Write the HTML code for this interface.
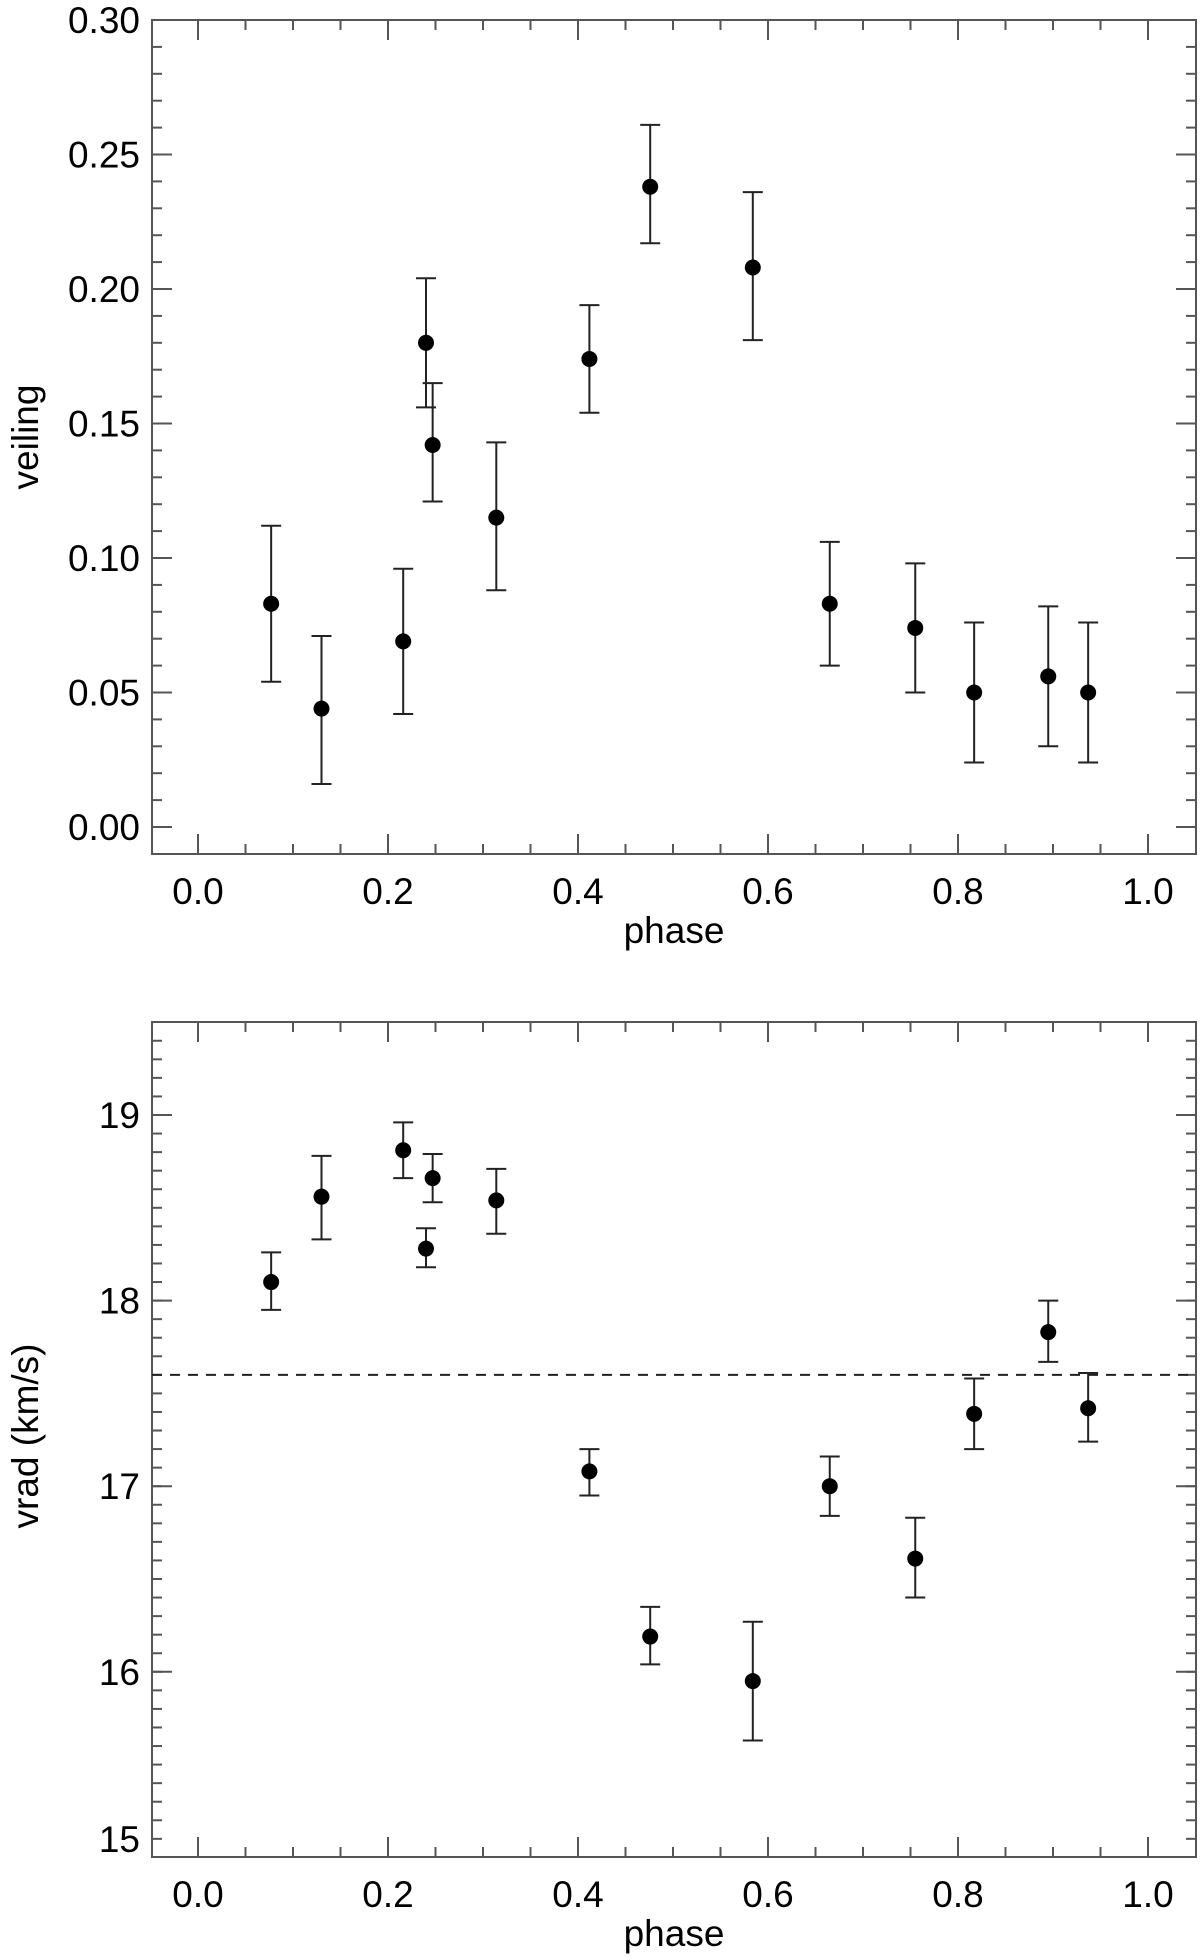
<!DOCTYPE html>
<html><head><meta charset="utf-8"><style>
html,body{margin:0;padding:0;background:#fff;}
svg{display:block;font-family:"Liberation Sans",Arial,sans-serif;}
</style></head><body>
<svg id="chart" width="1200" height="1960" viewBox="0 0 1200 1960" xmlns="http://www.w3.org/2000/svg"></svg>
<script>
const phase = [0.077,0.130,0.216,0.240,0.247,0.314,0.412,0.476,0.584,0.665,0.755,0.817,0.895,0.937];
const veiling = [0.083,0.044,0.069,0.180,0.142,0.115,0.174,0.238,0.208,0.083,0.074,0.050,0.056,0.050];
const veilLo = [0.054,0.016,0.042,0.156,0.121,0.088,0.154,0.217,0.181,0.060,0.050,0.024,0.030,0.024];
const veilHi = [0.112,0.071,0.096,0.204,0.165,0.143,0.194,0.261,0.236,0.106,0.098,0.076,0.082,0.076];
const vradPhase = [0.077,0.130,0.216,0.240,0.247,0.314,0.412,0.476,0.584,0.665,0.755,0.817,0.895,0.937];
const vrad = [18.10,18.56,18.81,18.28,18.66,18.54,17.08,16.19,15.95,17.00,16.61,17.39,17.83,17.42];
const vradLo = [17.95,18.33,18.66,18.18,18.53,18.36,16.95,16.04,15.63,16.84,16.40,17.20,17.67,17.24];
const vradHi = [18.26,18.78,18.96,18.39,18.79,18.71,17.20,16.35,16.27,17.16,16.83,17.58,18.00,17.61];
const vradMean = 17.60;
const xTickLabels = ["0.0","0.2","0.4","0.6","0.8","1.0"];
const veilTickLabels = ["0.00","0.05","0.10","0.15","0.20","0.25","0.30"];
const vradTickLabels = ["15","16","17","18","19"];

const NS="http://www.w3.org/2000/svg";
const svg=document.getElementById('chart');
function mk(tag,attrs,parent){const e=document.createElementNS(NS,tag);for(const k in attrs)e.setAttribute(k,attrs[k]);(parent||svg).appendChild(e);return e;}
const L=152,R=1196;
const xs=v=>198+(v)*950;
const AX="#555";
const FS=37;

function panel(name,top,bottom,y,ymin,ymax,yMajor,yLabels,yLabelVals,minorStep,px,py,lo,hi,ytitle,titleY){
  const g=mk('g',{});
  
  
  const frame=mk('rect',{x:L,y:top,width:R-L,height:bottom-top,fill:'none',stroke:AX,'stroke-width':2},g);
  
  
  for(let i=0;i<=21;i++){
    const v=-0.05+i*0.05; const x=xs(v); if(x<L+1||x>R-1)continue;
    const major=Math.abs(v*5-Math.round(v*5))<1e-6; const len=major?20:10;
    mk('line',{x1:x,y1:bottom,x2:x,y2:bottom-len,stroke:AX,'stroke-width':2},g);
    mk('line',{x1:x,y1:top,x2:x,y2:top+len,stroke:AX,'stroke-width':2},g);
  }
  xTickLabels.forEach((t,i)=>{
    const tx=mk('text',{x:xs(i*0.2),y:bottom+50,'font-size':FS,'text-anchor':'middle',fill:'#000'},g);
    tx.textContent=t;
    
    
  });
  const xt=mk('text',{x:674,y:bottom+89,'font-size':FS,'text-anchor':'middle',fill:'#000'},g);
  xt.textContent='phase';
  
  
  for(let v=ymin+minorStep;v<ymax-1e-9;v+=minorStep){
    const yy=y(v); mk('line',{x1:L,y1:yy,x2:L+10,y2:yy,stroke:AX,'stroke-width':2},g);
    mk('line',{x1:R,y1:yy,x2:R-10,y2:yy,stroke:AX,'stroke-width':2},g);
  }
  yMajor.forEach(v=>{const yy=y(v);
    mk('line',{x1:L,y1:yy,x2:L+20,y2:yy,stroke:AX,'stroke-width':2},g);
    mk('line',{x1:R,y1:yy,x2:R-20,y2:yy,stroke:AX,'stroke-width':2},g);});
  yLabels.forEach((t,i)=>{
    const tx=mk('text',{x:140,y:y(yLabelVals[i])+13,'font-size':FS,'text-anchor':'end',fill:'#000'},g);
    tx.textContent=t;
    
    
  });
  const yt=mk('text',{x:0,y:0,'font-size':FS,'text-anchor':'middle',fill:'#000',transform:`translate(38,${titleY}) rotate(-90)`},g);
  yt.textContent=ytitle;
  
  
  px.forEach((p,i)=>{
    const cx=xs(p);
    const eg=mk('g',{},g);
    
    
    mk('line',{x1:cx,y1:y(lo[i]),x2:cx,y2:y(hi[i]),stroke:'#222','stroke-width':2},eg);
    mk('line',{x1:cx-10,y1:y(lo[i]),x2:cx+10,y2:y(lo[i]),stroke:'#222','stroke-width':2},eg);
    mk('line',{x1:cx-10,y1:y(hi[i]),x2:cx+10,y2:y(hi[i]),stroke:'#222','stroke-width':2},eg);
    mk('circle',{cx:cx,cy:y(py[i]),r:8,fill:'#000'},eg);
  });
  return g;
}
const yv=v=>827-v*2690;
panel('veiling-panel',20,854,yv,-0.01,0.30,[0,0.05,0.10,0.15,0.20,0.25,0.30],veilTickLabels,[0,0.05,0.10,0.15,0.20,0.25,0.30],0.01,phase,veiling,veilLo,veilHi,'veiling',437);
const yr=v=>1115+(19-v)*185.6;
const g2=panel('vrad-panel',1022,1857,yr,15.0,19.5,[16,17,18,19],vradTickLabels,[15.1,16,17,18,19],0.1,vradPhase,vrad,vradLo,vradHi,'vrad (km/s)',1436);
const dl=mk('line',{x1:L,y1:yr(vradMean),x2:R,y2:yr(vradMean),stroke:'#222','stroke-width':2,'stroke-dasharray':'10,8'},g2);


</script>
</body></html>
